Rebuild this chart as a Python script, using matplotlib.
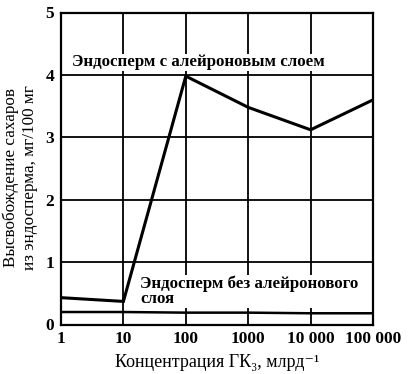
import matplotlib
matplotlib.use("Agg")
import matplotlib.pyplot as plt

conc = [1, 10, 100, 1000, 10000, 100000]
with_aleurone = [0.43, 0.37, 3.98, 3.48, 3.12, 3.6]
without_aleurone = [0.2, 0.2, 0.19, 0.19, 0.18, 0.18]
xtick_vals = [1, 10, 100, 1000, 10000, 100000]
xtick_labels = ["1", "10", "100", "1000", "10 000", "100 000"]
ytick_vals = [0, 1, 2, 3, 4, 5]

plt.rcParams['font.family'] = ['Liberation Serif', 'DejaVu Serif']

fig = plt.figure(figsize=(4.08, 3.74), dpi=100)
ax = fig.add_axes([61/408, 1-324.5/374, (373-61)/408, (324.5-12.5)/374])

ax.set_xscale('log')
ax.set_xlim(1, 100000)
ax.set_ylim(0, 5)
ax.plot(conc, with_aleurone, color='black', lw=2.2, solid_joinstyle='miter', zorder=3)
ax.plot(conc, without_aleurone, color='black', lw=1.8, zorder=3)

ax.set_xticks(xtick_vals)
ax.set_xticklabels(xtick_labels)
ax.minorticks_off()
ax.set_yticks(ytick_vals)
ax.tick_params(length=0, labelsize=12.5, pad=5)
for lbl in ax.get_xticklabels() + ax.get_yticklabels():
    lbl.set_fontweight('bold')
ax.grid(True, color='black', lw=1.3)
for s in ax.spines.values():
    s.set_linewidth(1.6)

ax.text(1.5, 4.2, "Эндосперм с алейроновым слоем", fontsize=12.2,
        fontweight='bold', ha='left', va='center', zorder=4,
        bbox=dict(facecolor='white', edgecolor='none', pad=0.5))
ax.text(18.5, 0.53, "Эндосперм без алейронового\nслоя", fontsize=12.2,
        fontweight='bold', ha='left', va='center', linespacing=0.95, zorder=4,
        bbox=dict(facecolor='white', edgecolor='none', pad=0.5))

ax.set_xlabel("Концентрация ГК₃, млрд⁻¹", fontsize=13, labelpad=5)
ax.set_ylabel("Высвобождение сахаров\nиз эндосперма, мг/100 мг", fontsize=12.3,
              labelpad=5)
ax.yaxis.set_label_coords(-0.075, 0.47)

fig.savefig("out.png", dpi=100)
